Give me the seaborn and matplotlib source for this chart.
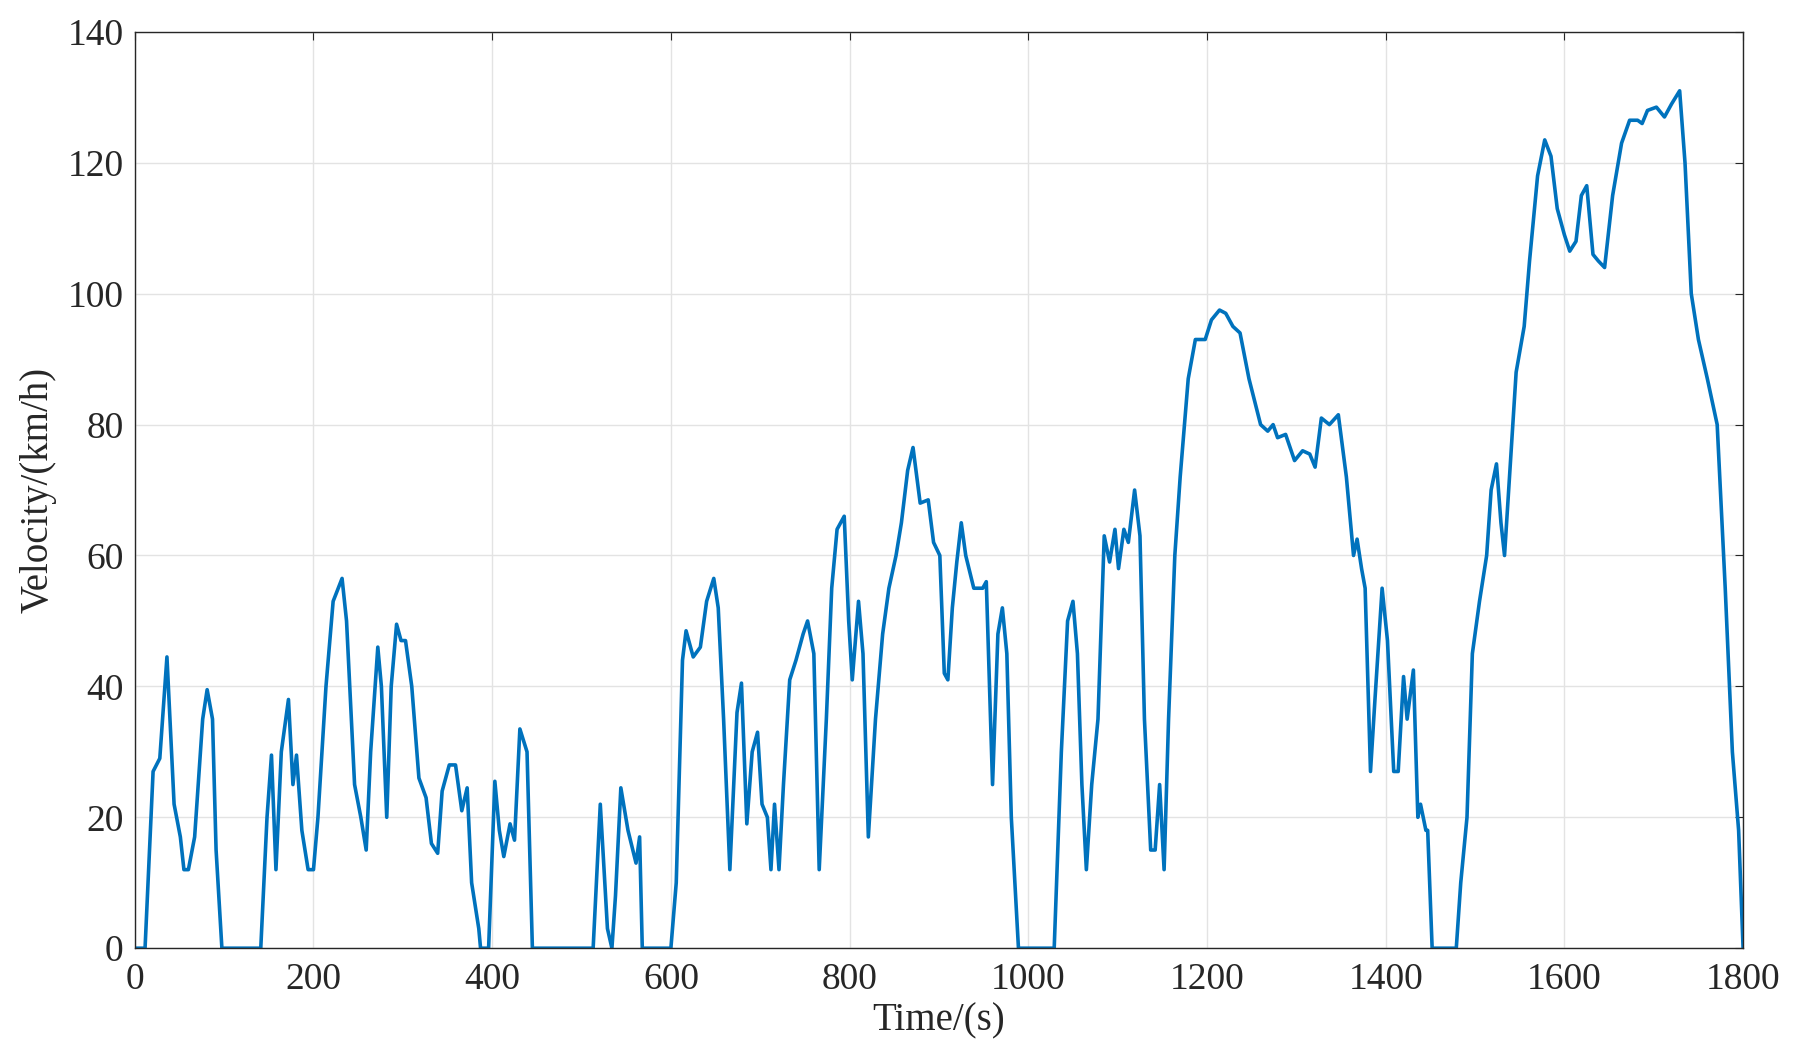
import matplotlib
matplotlib.use("Agg")
import matplotlib.pyplot as plt
import seaborn as sns
import pandas as pd

# speed profile
time_s = [0, 11.5, 20.5, 28, 36, 44, 51, 55, 60, 67, 76, 81, 87, 91, 97.5, 141, 148, 153, 158, 164, 172, 177, 181, 187, 194, 200,
          205, 214, 222, 232, 237, 246, 253, 259, 264, 272, 276, 282, 287, 293, 298, 303, 310, 318, 326, 332, 339, 344, 352, 359,
          366, 372, 377, 385, 387, 396, 403, 408, 413, 420, 425, 431, 439, 445, 513, 521, 529, 534, 538, 544, 552, 561, 565, 568,
          600, 606, 613, 617, 625, 633, 640, 648, 653, 659, 666, 674, 679, 685, 691, 697, 702, 708, 712, 716, 721, 726, 733, 740,
          748, 753, 760, 766, 774, 780, 786, 794, 799, 803, 810, 815, 821, 829, 837, 844, 852, 858, 865, 871, 879, 888, 894, 901,
          906, 910, 915, 920, 925, 930, 939, 949, 953, 960, 966, 971, 976, 981, 987, 989, 1029, 1037, 1044, 1050, 1055, 1060, 1065,
          1071, 1078, 1085, 1091, 1097, 1101, 1107, 1112, 1119, 1125, 1130, 1137, 1142, 1147, 1152, 1157, 1164, 1170, 1179, 1187,
          1198, 1205, 1214, 1221, 1229, 1237, 1247, 1260, 1268, 1274, 1279, 1288, 1298, 1307, 1315, 1321, 1328, 1337, 1347, 1356,
          1364, 1368, 1373, 1377, 1383, 1388, 1396, 1402, 1409, 1414, 1420, 1424, 1431, 1436, 1439, 1445, 1447, 1452, 1479, 1484,
          1491, 1497, 1505, 1513, 1518, 1524, 1529, 1533, 1540, 1546, 1555, 1561, 1570, 1578, 1585, 1592, 1600, 1606, 1613, 1619,
          1625, 1632, 1638, 1645, 1654, 1664, 1673, 1682, 1687, 1693, 1703, 1712, 1720, 1729, 1735, 1742, 1750, 1760, 1771, 1780,
          1788, 1795, 1800]
speed_kmh = [0, 0, 27, 29, 44.5, 22, 17, 12, 12, 17, 35, 39.5, 35, 15, 0, 0, 20, 29.5, 12, 30, 38, 25, 29.5, 18, 12, 12,
             20, 40, 53, 56.5, 50, 25, 20, 15, 30, 46, 40, 20, 40, 49.5, 47, 47, 40, 26, 23, 16, 14.5, 24, 28, 28,
             21, 24.5, 10, 3, 0, 0, 25.5, 18, 14, 19, 16.5, 33.5, 30, 0, 0, 22, 3, 0, 8, 24.5, 18, 13, 17, 0,
             0, 10, 44, 48.5, 44.5, 46, 53, 56.5, 52, 35, 12, 36, 40.5, 19, 30, 33, 22, 20, 12, 22, 12, 25, 41, 44,
             48, 50, 45, 12, 35, 55, 64, 66, 50, 41, 53, 45, 17, 35, 48, 55, 60, 65, 73, 76.5, 68, 68.5, 62, 60,
             42, 41, 52, 59, 65, 60, 55, 55, 56, 25, 48, 52, 45, 20, 5, 0, 0, 30, 50, 53, 45, 25, 12,
             25, 35, 63, 59, 64, 58, 64, 62, 70, 63, 35, 15, 15, 25, 12, 35, 60, 72, 87, 93,
             93, 96, 97.5, 97, 95, 94, 87, 80, 79, 80, 78, 78.5, 74.5, 76, 75.5, 73.5, 81, 80, 81.5, 72,
             60, 62.5, 58, 55, 27, 38, 55, 47, 27, 27, 41.5, 35, 42.5, 20, 22, 18, 18, 0, 0, 10,
             20, 45, 53, 60, 70, 74, 65, 60, 75, 88, 95, 105, 118, 123.5, 121, 113, 109, 106.5, 108, 115,
             116.5, 106, 105, 104, 115, 123, 126.5, 126.5, 126, 128, 128.5, 127, 129, 131, 120, 100, 93, 87, 80, 55,
             30, 18, 0]

df = pd.DataFrame({"t": time_s, "v": speed_kmh})

sns.set_style("whitegrid")
plt.rcParams["font.family"] = ["Liberation Serif", "DejaVu Serif"]

fig = plt.figure(figsize=(17.97, 10.63), dpi=100)
ax = fig.add_axes([0.075, 0.108, 0.895, 0.862])
sns.lineplot(data=df, x="t", y="v", ax=ax, color="#0072BD", linewidth=2.6)

ax.set_xlim(0, 1800)
ax.set_ylim(0, 140)
ax.set_xticks(range(0, 1801, 200))
ax.set_yticks(range(0, 141, 20))
ax.grid(True, color="#e3e3e3", linewidth=1)
for s in ax.spines.values():
    s.set_color("#262626")
    s.set_linewidth(1)
ax.tick_params(axis="both", labelsize=27, direction="in", length=6, colors="#262626",
               top=True, right=True, labelcolor="#262626")
ax.tick_params(axis="x", pad=10)
ax.tick_params(axis="y", pad=8)
ax.set_xlabel("Time/(s)", fontsize=28, color="#262626", labelpad=4)
ax.set_ylabel("Velocity/(km/h)", fontsize=28, color="#262626", labelpad=8)

fig.savefig("out.png", dpi=100)
